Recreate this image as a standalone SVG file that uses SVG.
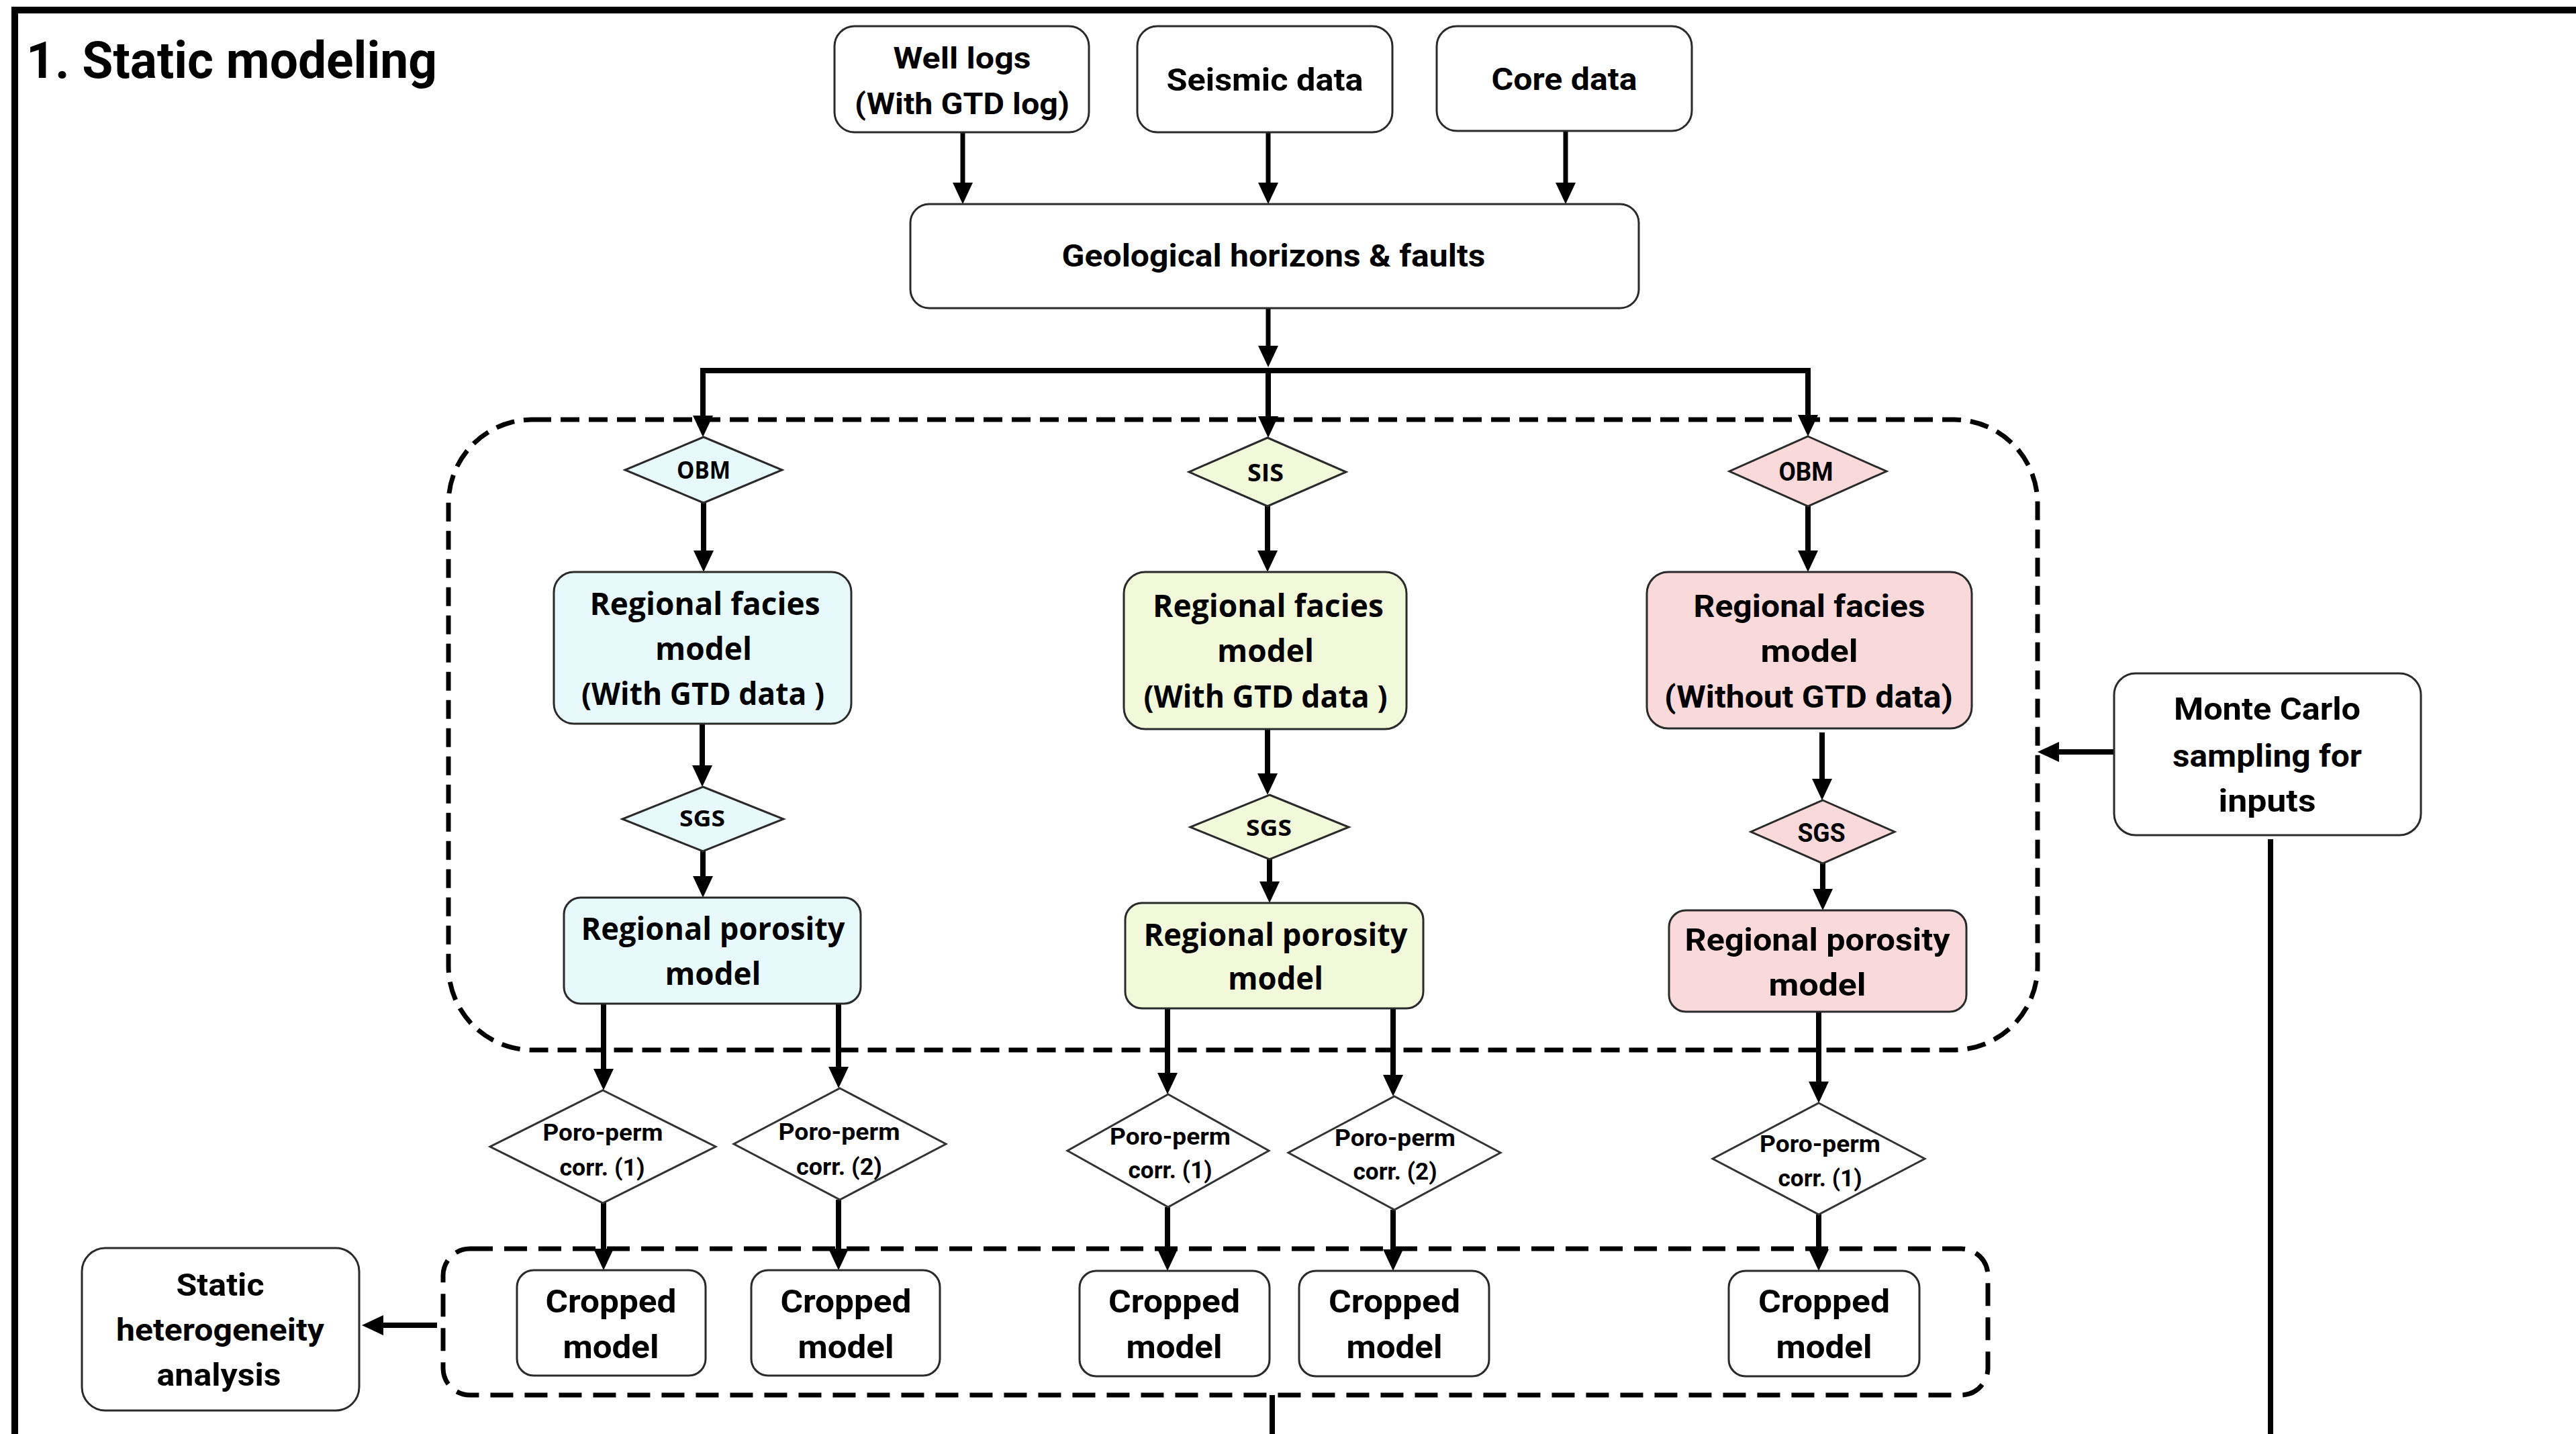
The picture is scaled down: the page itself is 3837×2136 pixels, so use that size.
<svg xmlns="http://www.w3.org/2000/svg" width="3837" height="2136" viewBox="0 0 3837 2136">
<defs>
<style>
.box{fill:#fff;stroke:#2a2a2a;stroke-width:3}
.cy{fill:#E7F9FB;stroke:#2a2a2a;stroke-width:3}
.yg{fill:#F2F8DA;stroke:#2a2a2a;stroke-width:3}
.pk{fill:#F9D9DA;stroke:#2a2a2a;stroke-width:3}
.dia{fill:#fff;stroke:#333;stroke-width:3}
.dash{fill:none;stroke:#000;stroke-width:7;stroke-dasharray:28 14}
.c{fill:none;stroke:#000;stroke-width:8}
.ca{fill:none;stroke:#000;stroke-width:8;marker-end:url(#ah)}
.ct{fill:none;stroke:#000;stroke-width:7;marker-end:url(#ah)}
.t{font-family:Roboto,"Liberation Sans",sans-serif;font-weight:700;fill:#000;text-anchor:middle}
.w{font-family:"Open Sans","DejaVu Sans",sans-serif;font-weight:700;fill:#000;text-anchor:middle}
</style>
<marker id="ah" markerUnits="userSpaceOnUse" markerWidth="32" markerHeight="30" refX="10" refY="15" orient="auto" viewBox="0 0 32 30">
<path d="M0,0 L32,15 L0,30 z" fill="#000"/>
</marker>
</defs>
<rect width="3837" height="2136" fill="#fff"/>
<path d="M22,2136 V15 H3837" fill="none" stroke="#000" stroke-width="10"/>
<text id="title" class="t" x="39" y="116" font-size="76" style="text-anchor:start" textLength="612" lengthAdjust="spacingAndGlyphs">1. Static modeling</text>

<g id="group-regional"><rect class="dash" x="668" y="625" width="2367" height="939" rx="125"/></g>
<g id="group-cropped"><rect class="dash" x="660" y="1860" width="2301" height="218" rx="40" style="stroke-dasharray:34 17"/></g>

<g id="connectors">
<path class="ct" d="M1434,197 V282"/>
<path class="ct" d="M1889,197 V282"/>
<path class="ct" d="M2332,195 V282"/>
<path class="ct" d="M1889,459 V525"/>
<path class="c" d="M1043,552 H2697" stroke-width="10"/>
<path class="ca" d="M1047,548 V629" stroke-width="10"/>
<path class="ca" d="M1889,548 V630" stroke-width="10"/>
<path class="ca" d="M2693,548 V628" stroke-width="10"/>
<path class="ca" d="M1048,749 V830"/>
<path class="ca" d="M1046,1078 V1150"/>
<path class="ca" d="M1047,1268 V1315"/>
<path class="ca" d="M899,1495 V1602"/>
<path class="ca" d="M1249,1495 V1599"/>
<path class="ca" d="M899,1791 V1870"/>
<path class="ca" d="M1249,1787 V1870"/>
<path class="ca" d="M1888,754 V830"/>
<path class="ca" d="M1888,1086 V1162"/>
<path class="ca" d="M1891,1280 V1323"/>
<path class="ca" d="M1739,1502 V1608"/>
<path class="ca" d="M2075,1502 V1611"/>
<path class="ca" d="M1739,1798 V1871"/>
<path class="ca" d="M2075,1802 V1871"/>
<path class="ca" d="M2693,754 V830"/>
<path class="ca" d="M2714,1091 V1170"/>
<path class="ca" d="M2715,1286 V1334"/>
<path class="ca" d="M2709,1507 V1621"/>
<path class="ca" d="M2709,1809 V1871"/>
<path class="ca" d="M3149,1120 H3057" stroke-width="10"/>
<path class="ca" d="M651,1974 H561" stroke-width="11"/>
<path class="c" d="M3382,1250 V2136" stroke-width="7"/>
<path class="c" d="M1895,2078 V2136" stroke-width="7"/>
</g>

<g id="well-logs"><rect class="box" x="1243" y="39" width="379" height="158" rx="30"/>
<text class="t" x="1433" y="102" font-size="44" textLength="205" lengthAdjust="spacingAndGlyphs">Well logs</text>
<text class="t" x="1433" y="170" font-size="44" textLength="320" lengthAdjust="spacingAndGlyphs">(With GTD log)</text></g>
<g id="seismic"><rect class="box" x="1694" y="39" width="380" height="158" rx="30"/>
<text class="t" x="1884" y="135" font-size="46" textLength="293" lengthAdjust="spacingAndGlyphs">Seismic data</text></g>
<g id="core"><rect class="box" x="2140" y="39" width="380" height="156" rx="30"/>
<text class="t" x="2330" y="134" font-size="46" textLength="217" lengthAdjust="spacingAndGlyphs">Core data</text></g>
<g id="geo"><rect class="box" x="1356" y="304" width="1085" height="155" rx="28"/>
<text class="t" x="1897" y="397" font-size="46" textLength="631" lengthAdjust="spacingAndGlyphs">Geological horizons &amp; faults</text></g>

<g id="obm-left"><polygon class="cy" points="1048,651 1165,700 1048,749 931,700"/>
<text class="w" x="1048" y="713" font-size="35" textLength="80" lengthAdjust="spacingAndGlyphs">OBM</text></g>
<g id="facies-left"><rect class="cy" x="825" y="852" width="443" height="226" rx="30"/>
<text class="w" x="1050" y="916" font-size="46" textLength="343" lengthAdjust="spacingAndGlyphs">Regional facies</text>
<text class="w" x="1048" y="983" font-size="46" textLength="144" lengthAdjust="spacingAndGlyphs">model</text>
<text class="w" x="1047" y="1050" font-size="46" textLength="362" lengthAdjust="spacingAndGlyphs">(With GTD data )</text></g>
<g id="sgs-left"><polygon class="cy" points="1047,1172 1167,1220 1047,1268 927,1220"/>
<text class="w" x="1046" y="1231" font-size="34" textLength="68" lengthAdjust="spacingAndGlyphs">SGS</text></g>
<g id="porosity-left"><rect class="cy" x="840" y="1337" width="442" height="158" rx="25"/>
<text class="w" x="1062" y="1400" font-size="46" textLength="393" lengthAdjust="spacingAndGlyphs">Regional porosity</text>
<text class="w" x="1062" y="1467" font-size="46" textLength="143" lengthAdjust="spacingAndGlyphs">model</text></g>

<g id="sis-mid"><polygon class="yg" points="1888,652 2005,703 1888,754 1771,703"/>
<text class="w" x="1885" y="717" font-size="35" textLength="54" lengthAdjust="spacingAndGlyphs">SIS</text></g>
<g id="facies-mid"><rect class="yg" x="1674" y="852" width="421" height="234" rx="32"/>
<text class="w" x="1889" y="919" font-size="46" textLength="344" lengthAdjust="spacingAndGlyphs">Regional facies</text>
<text class="w" x="1885" y="986" font-size="46" textLength="144" lengthAdjust="spacingAndGlyphs">model</text>
<text class="w" x="1885" y="1054" font-size="46" textLength="363" lengthAdjust="spacingAndGlyphs">(With GTD data )</text></g>
<g id="sgs-mid"><polygon class="yg" points="1891,1184 2009,1232 1891,1280 1773,1232"/>
<text class="w" x="1890" y="1245" font-size="34" textLength="68" lengthAdjust="spacingAndGlyphs">SGS</text></g>
<g id="porosity-mid"><rect class="yg" x="1676" y="1345" width="444" height="157" rx="25"/>
<text class="w" x="1900" y="1409" font-size="46" textLength="393" lengthAdjust="spacingAndGlyphs">Regional porosity</text>
<text class="w" x="1900" y="1474" font-size="46" textLength="142" lengthAdjust="spacingAndGlyphs">model</text></g>

<g id="obm-right"><polygon class="pk" points="2693,650 2810,702 2693,754 2576,702"/>
<text class="t" x="2690" y="716" font-size="38" textLength="81" lengthAdjust="spacingAndGlyphs">OBM</text></g>
<g id="facies-right"><rect class="pk" x="2453" y="852" width="484" height="233" rx="32"/>
<text class="t" x="2695" y="919" font-size="46" textLength="345" lengthAdjust="spacingAndGlyphs">Regional facies</text>
<text class="t" x="2695" y="986" font-size="46" textLength="145" lengthAdjust="spacingAndGlyphs">model</text>
<text class="t" x="2694" y="1054" font-size="46" textLength="430" lengthAdjust="spacingAndGlyphs">(Without GTD data)</text></g>
<g id="sgs-right"><polygon class="pk" points="2715,1192 2822,1239 2715,1286 2608,1239"/>
<text class="t" x="2713" y="1254" font-size="38" textLength="71" lengthAdjust="spacingAndGlyphs">SGS</text></g>
<g id="porosity-right"><rect class="pk" x="2486" y="1356" width="443" height="151" rx="25"/>
<text class="t" x="2707" y="1416" font-size="46" textLength="395" lengthAdjust="spacingAndGlyphs">Regional porosity</text>
<text class="t" x="2707" y="1483" font-size="46" textLength="145" lengthAdjust="spacingAndGlyphs">model</text></g>

<g id="monte-carlo"><rect class="box" x="3149" y="1003" width="457" height="241" rx="32"/>
<text class="t" x="3377" y="1072" font-size="46" textLength="278" lengthAdjust="spacingAndGlyphs">Monte Carlo</text>
<text class="t" x="3377" y="1142" font-size="46" textLength="282" lengthAdjust="spacingAndGlyphs">sampling for</text>
<text class="t" x="3377" y="1209" font-size="46" textLength="145" lengthAdjust="spacingAndGlyphs">inputs</text></g>

<g id="pp1"><polygon class="dia" points="898,1624 1066,1708 898,1792 730,1708"/>
<text class="t" x="898" y="1699" font-size="35" textLength="179" lengthAdjust="spacingAndGlyphs">Poro-perm</text>
<text class="t" x="897" y="1751" font-size="35" textLength="127" lengthAdjust="spacingAndGlyphs">corr. (1)</text></g>
<g id="pp2"><polygon class="dia" points="1251,1621 1409,1704 1251,1787 1093,1704"/>
<text class="t" x="1250" y="1698" font-size="35" textLength="181" lengthAdjust="spacingAndGlyphs">Poro-perm</text>
<text class="t" x="1250" y="1750" font-size="35" textLength="128" lengthAdjust="spacingAndGlyphs">corr. (2)</text></g>
<g id="pp3"><polygon class="dia" points="1740,1630 1890,1714 1740,1798 1590,1714"/>
<text class="t" x="1743" y="1705" font-size="35" textLength="180" lengthAdjust="spacingAndGlyphs">Poro-perm</text>
<text class="t" x="1743" y="1755" font-size="35" textLength="125" lengthAdjust="spacingAndGlyphs">corr. (1)</text></g>
<g id="pp4"><polygon class="dia" points="2077,1633 2235,1717 2077,1802 1919,1717"/>
<text class="t" x="2078" y="1707" font-size="35" textLength="180" lengthAdjust="spacingAndGlyphs">Poro-perm</text>
<text class="t" x="2078" y="1757" font-size="35" textLength="125" lengthAdjust="spacingAndGlyphs">corr. (2)</text></g>
<g id="pp5"><polygon class="dia" points="2709,1643 2867,1726 2709,1809 2551,1726"/>
<text class="t" x="2711" y="1716" font-size="35" textLength="180" lengthAdjust="spacingAndGlyphs">Poro-perm</text>
<text class="t" x="2711" y="1767" font-size="35" textLength="125" lengthAdjust="spacingAndGlyphs">corr. (1)</text></g>

<g id="crop1"><rect class="box" x="770" y="1892" width="281" height="157" rx="25"/>
<text class="t" x="910" y="1955" font-size="49" textLength="195" lengthAdjust="spacingAndGlyphs">Cropped</text>
<text class="t" x="910" y="2023" font-size="49" textLength="143" lengthAdjust="spacingAndGlyphs">model</text></g>
<g id="crop2"><rect class="box" x="1119" y="1892" width="281" height="157" rx="25"/>
<text class="t" x="1260" y="1955" font-size="49" textLength="195" lengthAdjust="spacingAndGlyphs">Cropped</text>
<text class="t" x="1260" y="2023" font-size="49" textLength="143" lengthAdjust="spacingAndGlyphs">model</text></g>
<g id="crop3"><rect class="box" x="1608" y="1893" width="283" height="157" rx="25"/>
<text class="t" x="1749" y="1955" font-size="49" textLength="196" lengthAdjust="spacingAndGlyphs">Cropped</text>
<text class="t" x="1749" y="2023" font-size="49" textLength="143" lengthAdjust="spacingAndGlyphs">model</text></g>
<g id="crop4"><rect class="box" x="1935" y="1893" width="283" height="157" rx="25"/>
<text class="t" x="2077" y="1955" font-size="49" textLength="196" lengthAdjust="spacingAndGlyphs">Cropped</text>
<text class="t" x="2077" y="2023" font-size="49" textLength="143" lengthAdjust="spacingAndGlyphs">model</text></g>
<g id="crop5"><rect class="box" x="2575" y="1893" width="284" height="157" rx="25"/>
<text class="t" x="2717" y="1955" font-size="49" textLength="196" lengthAdjust="spacingAndGlyphs">Cropped</text>
<text class="t" x="2717" y="2023" font-size="49" textLength="143" lengthAdjust="spacingAndGlyphs">model</text></g>

<g id="static-het"><rect class="box" x="122" y="1859" width="413" height="242" rx="35"/>
<text class="t" x="328" y="1930" font-size="46" textLength="131" lengthAdjust="spacingAndGlyphs">Static</text>
<text class="t" x="328" y="1997" font-size="46" textLength="310" lengthAdjust="spacingAndGlyphs">heterogeneity</text>
<text class="t" x="326" y="2064" font-size="46" textLength="185" lengthAdjust="spacingAndGlyphs">analysis</text></g>
</svg>
